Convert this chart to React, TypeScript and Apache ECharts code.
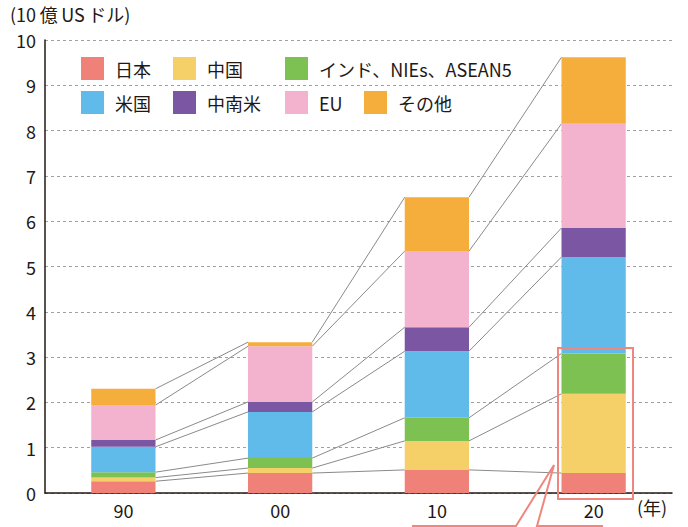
import React, { useEffect, useRef } from "react";
import * as echarts from "echarts";

const categories = ["90", "00", "10", "20"];
const seriesNames = ["日本", "中国", "インド、NIEs、ASEAN5", "米国", "中南米", "EU", "その他"];
const japan = [0.26, 0.44, 0.51, 0.44];
const china = [0.08, 0.11, 0.64, 1.75];
const asia = [0.12, 0.22, 0.51, 0.89];
const usa = [0.56, 1.02, 1.47, 2.13];
const latam = [0.15, 0.22, 0.53, 0.64];
const eu = [0.77, 1.23, 1.68, 2.3];
const other = [0.36, 0.09, 1.19, 1.47];
const yTicks = [0, 1, 2, 3, 4, 5, 6, 7, 8, 9, 10];

const colors = ["#F08178", "#F5CF68", "#7DC152", "#61BBEA", "#7B57A3", "#F3B3CF", "#F5AD3C"];
const FONT = "'Noto Sans CJK JP', 'Noto Sans', sans-serif";
const TXT = "#231815";

export default function App() {
  const ref = useRef<HTMLDivElement>(null);
  useEffect(() => {
    if (!ref.current) return;
    const chart = echarts.init(ref.current, undefined, { renderer: "svg" });
    const values = [japan, china, asia, usa, latam, eu, other];
    const cum: number[][] = categories.map((_, ci) => {
      let s = 0;
      return values.map((arr) => {
        s += arr[ci];
        return +s.toFixed(3);
      });
    });
    const connectors: number[][] = [];
    for (let i = 0; i < categories.length - 1; i++) {
      for (let k = 0; k < values.length; k++) {
        connectors.push([i, cum[i][k], cum[i + 1][k]]);
      }
    }
    const legendPos = [
      [81, 57], [173, 57], [285, 57],
      [81, 91], [173, 91], [285, 91], [364, 91],
    ];
    const barRatio = 0.41;
    chart.setOption({
      animation: false,
      textStyle: { fontFamily: FONT, color: TXT },
      grid: { left: 45, right: 16, top: 40, bottom: 34, containLabel: false },
      legend: seriesNames.map((n, i) => ({
        left: legendPos[i][0],
        top: legendPos[i][1],
        padding: 0,
        data: [n],
        icon: "rect",
        itemWidth: 23,
        itemHeight: 23,
        selectedMode: false,
        textStyle: { fontSize: 18, color: TXT, fontFamily: FONT, padding: [0, 0, 0, 6] },
      })),
      xAxis: {
        type: "category",
        data: categories,
        axisLine: { lineStyle: { color: TXT, width: 1.5 } },
        axisTick: { inside: true, length: 10, lineStyle: { color: "#555", width: 1 } },
        axisLabel: { fontSize: 18, color: TXT, margin: 8, fontFamily: FONT },
      },
      yAxis: {
        type: "value",
        min: 0,
        max: 10,
        interval: 1,
        axisLine: { show: true, lineStyle: { color: TXT, width: 1.5 } },
        axisTick: { show: false },
        axisLabel: {
          fontSize: 18,
          color: TXT,
          margin: 9,
          fontFamily: FONT,
          formatter: (v: number) => (yTicks.includes(v) ? String(v) : ""),
        },
        splitLine: { lineStyle: { color: "#A0A0A0", type: [3, 3], width: 1 } },
      },
      series: [
        ...seriesNames.map((n, i) => ({
          name: n,
          type: "bar",
          stack: "total",
          barWidth: `${barRatio * 100}%`,
          data: values[i],
          itemStyle: { color: colors[i] },
          z: 3,
        })),
        {
          type: "custom",
          name: "connectors",
          silent: true,
          z: 2,
          data: connectors,
          encode: { x: 0, y: [1, 2] },
          renderItem: (params: any, api: any) => {
            const i = api.value(0);
            const band = api.size([1, 0])[0];
            const half = (band * barRatio) / 2;
            const p1 = api.coord([i, api.value(1)]);
            const p2 = api.coord([i + 1, api.value(2)]);
            return {
              type: "line",
              shape: { x1: p1[0] + half, y1: p1[1], x2: p2[0] - half, y2: p2[1] },
              style: { stroke: "#8A8A8A", lineWidth: 1 },
            };
          },
        },
      ],
      graphic: [
        {
          type: "text",
          left: 10,
          top: 5,
          style: { text: "(10\u2009億\u2009US\u2009ドル)", fontSize: 18, fill: TXT, fontFamily: FONT },
        },
        {
          type: "text",
          left: 637,
          top: 498,
          style: { text: "(年)", fontSize: 18, fill: TXT, fontFamily: FONT },
        },
        {
          type: "rect",
          shape: { x: 558, y: 348, width: 75, height: 151 },
          style: { fill: "none", stroke: "#F0877E", lineWidth: 2 },
          z: 10,
        },
        {
          type: "polyline",
          shape: { points: [[412, 526], [516, 526], [554, 465], [537, 526], [603, 526]] },
          style: { fill: "none", stroke: "#F0877E", lineWidth: 2 },
          z: 10,
        },
      ],
    });
    return () => chart.dispose();
  }, []);
  return <div ref={ref} style={{ width: 688, height: 527, position: "absolute", left: 0, top: 0 }} />;
}
